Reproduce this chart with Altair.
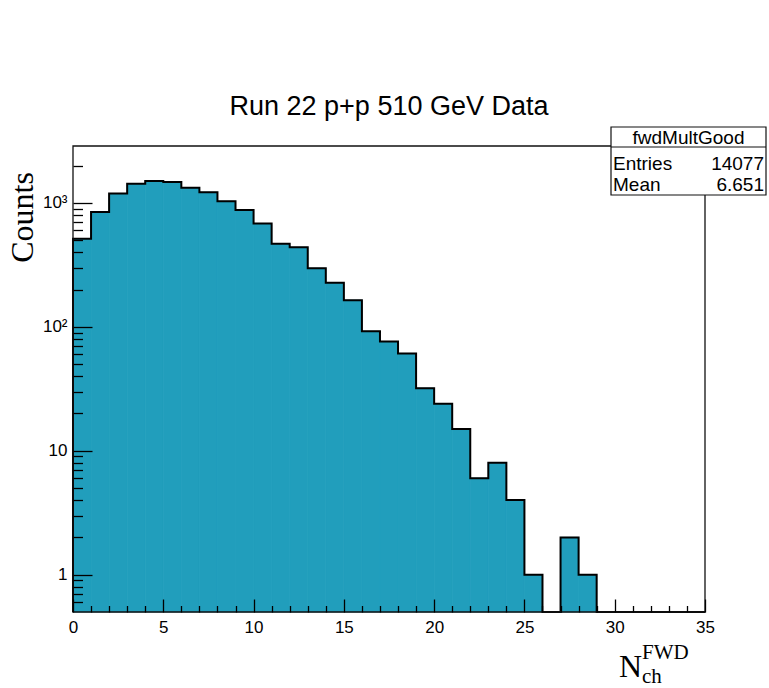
import altair as alt
import pandas as pd

# Forward charged-particle multiplicity, unit-width bins from 0 to 35
bin_low = list(range(35))
counts = [515, 845, 1189, 1431, 1503, 1475, 1328, 1218, 1030, 877,
          681, 469, 438, 297, 227, 164, 92, 76, 61, 32,
          24, 15, 6, 8, 4, 1, 0, 2, 1, 0,
          0, 0, 0, 0, 0]

x_major = [0, 5, 10, 15, 20, 25, 30, 35]
x_minor = [v for v in range(36) if v % 5]
y_major = [1, 10, 100, 1000]
y_minor = ([0.6, 0.7, 0.8, 0.9]
           + [m * 10 ** e for e in range(3) for m in range(2, 10)]
           + [2000])

hist_name = "fwdMultGood"
stat_names = ["Entries", "Mean"]
stat_values = ["14077", "6.651"]
chart_title = "Run 22 p+p 510 GeV Data"

X_RANGE = [0, 35]
Y_RANGE = [0.5, 2880]

W, H = 632, 466
FILL = "#219EBC"
SANS = "Liberation Sans, Arial, Helvetica, sans-serif"
SERIF = "Liberation Serif, Times New Roman, serif"

hist_df = pd.DataFrame({
    "lo": bin_low,
    "hi": [b + 1 for b in bin_low],
    "n": counts,
})
hist_df["base"] = Y_RANGE[0]

# Step path along the bin tops; empty bins rest on the frame floor
edges = [0] + bin_low + [X_RANGE[1]]
tops = [Y_RANGE[0]] + [max(c, Y_RANGE[0]) for c in counts] + [max(counts[-1], Y_RANGE[0])]
outline_df = pd.DataFrame({"x": edges, "y": tops, "i": range(len(edges))})

one = pd.DataFrame({"_": [0]})

x_scale = alt.Scale(domain=X_RANGE, nice=False, zero=False)
y_scale = alt.Scale(type="log", domain=Y_RANGE, nice=False)


def x_axis(values, size, labels):
    # ticks point into the frame: shift the axis up by the tick length
    return alt.Axis(orient="bottom", values=values, tickSize=size, offset=-size,
                    domain=False, grid=False, labels=labels, title=None,
                    tickColor="black", tickWidth=1.3, zindex=1,
                    labelFont=SANS, labelFontSize=17, labelColor="black",
                    labelPadding=7, labelFlush=False, labelOverlap=False)


def y_axis(values, size, labels, **extra):
    return alt.Axis(orient="left", values=values, tickSize=size, offset=-size,
                    domain=False, grid=False, labels=labels,
                    tickColor="black", tickWidth=1.3, zindex=1,
                    labelFont=SANS, labelFontSize=17, labelColor="black",
                    labelPadding=6, labelFlush=False, labelOverlap=False,
                    labelExpr="datum.value == 1000 ? '10³' : datum.value == 100 ? '10²' : datum.label",
                    **extra)


# filled bins (stroked in the fill colour so neighbouring bins join without seams)
bars = alt.Chart(hist_df).transform_filter("datum.n > 0").mark_rect(
    color=FILL, stroke=FILL, strokeWidth=0.8
).encode(
    x=alt.X("lo:Q", scale=x_scale, axis=x_axis(x_major, 13, True)),
    x2="hi:Q",
    y=alt.Y("n:Q", scale=y_scale,
            axis=y_axis(y_major, 19, True, title="Counts", titleFont=SERIF,
                        titleFontSize=32, titleFontWeight="normal", titleColor="black",
                        titleAngle=270, titleAlign="center", titleBaseline="middle",
                        titleX=-70, titleY=71)),
    y2="base:Q",
)

outline = alt.Chart(outline_df).mark_line(
    color="black", strokeWidth=2, interpolate="step-after"
).encode(
    x=alt.X("x:Q", scale=x_scale, axis=None),
    y=alt.Y("y:Q", scale=y_scale, axis=None),
    order="i:Q",
)

minor_ticks = alt.Chart(outline_df).mark_point(opacity=0).encode(
    x=alt.X("x:Q", scale=x_scale, axis=x_axis(x_minor, 6.5, False)),
    y=alt.Y("y:Q", scale=y_scale, axis=y_axis(y_minor, 9.5, False, title=None)),
)

frame = alt.Chart(one).mark_rect(filled=False, stroke="#111", strokeWidth=1.3).encode(
    x=alt.X(datum=X_RANGE[0], axis=None),
    x2=alt.X2(datum=X_RANGE[1]),
    y=alt.Y(datum=Y_RANGE[0], axis=None),
    y2=alt.Y2(datum=Y_RANGE[1]),
)

# Statistics box in the upper right corner
box = alt.Chart(one).mark_rect(fill="white", stroke="#111", strokeWidth=1.2).encode(
    x=alt.value(538), x2=alt.value(693), y=alt.value(-19), y2=alt.value(49)
)
box_sep = alt.Chart(one).mark_rule(color="#111", strokeWidth=1.2).encode(
    x=alt.value(538), x2=alt.value(693), y=alt.value(1)
)
box_head = alt.Chart(one).mark_text(
    text=hist_name, font=SANS, fontSize=19, align="center", baseline="alphabetic", color="black"
).encode(x=alt.value(615.5), y=alt.value(-2))

stat_layers = []
for k, (name, val) in enumerate(zip(stat_names, stat_values)):
    yb = 24 + 21 * k
    stat_layers.append(alt.Chart(one).mark_text(
        text=name, font=SANS, fontSize=19, align="left", baseline="alphabetic", color="black"
    ).encode(x=alt.value(540), y=alt.value(yb)))
    stat_layers.append(alt.Chart(one).mark_text(
        text=val, font=SANS, fontSize=19, align="right", baseline="alphabetic", color="black"
    ).encode(x=alt.value(691), y=alt.value(yb)))

# x-axis title N_ch^FWD built from three pieces
x_title = [
    alt.Chart(one).mark_text(text="N", font=SERIF, fontSize=32, align="left",
                             baseline="alphabetic", color="black"
                             ).encode(x=alt.value(546), y=alt.value(531)),
    alt.Chart(one).mark_text(text="FWD", font=SERIF, fontSize=21, align="left",
                             baseline="alphabetic", color="black"
                             ).encode(x=alt.value(569), y=alt.value(513)),
    alt.Chart(one).mark_text(text="ch", font=SERIF, fontSize=21, align="left",
                             baseline="alphabetic", color="black"
                             ).encode(x=alt.value(569), y=alt.value(537)),
]

chart = alt.layer(
    bars, outline, minor_ticks, frame, box, box_sep, box_head, *stat_layers, *x_title
).resolve_axis(
    x="independent", y="independent"
).properties(
    width=W,
    height=H,
    padding={"left": 73, "top": 146, "right": 64, "bottom": 76},
    autosize=alt.AutoSizeParams(type="none"),
    title=alt.TitleParams(text=chart_title, font=SANS, fontSize=27, fontWeight="normal",
                          anchor="middle", frame="group", offset=29, dy=45,
                          baseline="alphabetic", color="black"),
).configure_view(stroke=None)

chart.save("out.html", embed_options={"renderer": "svg", "actions": False})
